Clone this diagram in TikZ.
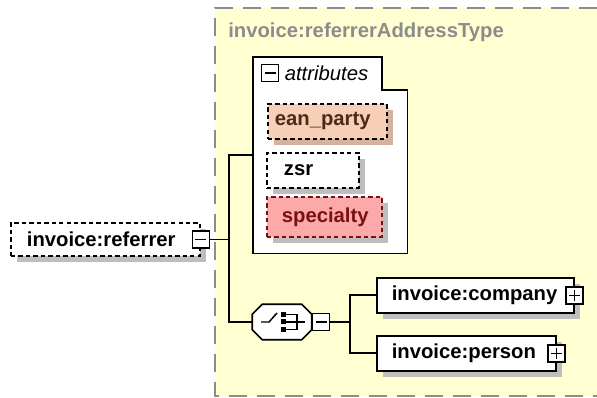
\documentclass[tikz,border=0pt]{standalone}
\usepackage{fontspec}
\setmainfont{Liberation Sans}
\usetikzlibrary{positioning, shadows}
\definecolor{typebg}{HTML}{FFFFD2}
\definecolor{typeline}{HTML}{8C8C8C}
\definecolor{shadowgray}{HTML}{BEBEBE}
\definecolor{eanfill}{HTML}{F6CFB6}
\definecolor{eanshadow}{HTML}{D6B29C}
\definecolor{eantext}{HTML}{4A2A18}
\definecolor{specfill}{HTML}{FBA9A9}
\definecolor{specline}{HTML}{7A1010}
\newcommand\pxu{0.75pt}
\newcommand\xsdfont{\fontsize{15.2}{18}\selectfont}

\tikzset{
  boxshadow/.style={general shadow={fill=#1, shadow xshift=6*\pxu, shadow yshift=-6*\pxu}},
  boxshadow/.default=shadowgray,
  elembox/.style={draw, fill=white, line width=1.2pt, font=\xsdfont\bfseries, align=left,
    inner ysep=0pt, minimum height=35*\pxu, anchor=north west},
  dashedbox/.style={elembox, line width=1.3pt, dash pattern=on 3.3pt off 2.3pt},
  togglebox/.style={draw, fill=white, line width=1.1pt, minimum size=17*\pxu, inner sep=0pt},
  minusbox/.style={togglebox,
    path picture={\draw[line width=1.1pt] ([xshift=3*\pxu]path picture bounding box.west)
      -- ([xshift=-3*\pxu]path picture bounding box.east);}},
  plusbox/.style={togglebox,
    path picture={\draw[line width=1.1pt] ([xshift=3*\pxu]path picture bounding box.west)
      -- ([xshift=-3*\pxu]path picture bounding box.east);
      \draw[line width=1.1pt] ([yshift=-3*\pxu]path picture bounding box.north)
      -- ([yshift=3*\pxu]path picture bounding box.south);}},
  choicebox/.style={minimum width=59*\pxu, minimum height=35*\pxu, inner sep=0pt},
  conn/.style={line width=1.2pt}
}

\begin{document}
\begin{tikzpicture}[x=0.75pt, y=-0.75pt]
  \useasboundingbox (0,0) rectangle (597,398);

  % complex type area
  \fill[typebg] (215,8) rectangle (597,396);
  \draw[typeline, line width=1.1pt, dash pattern=on 13.5pt off 7.5pt] (597,8) -- (215,8) -- (215,396) -- (597,396);
  \node[anchor=west, font=\xsdfont\bfseries, text=typeline, inner sep=0pt] (typename) at (228,32) {invoice:referrerAddressType};

  % attributes group
  \node[minimum width=154*\pxu, minimum height=196*\pxu, anchor=north west, inner sep=0pt] (attr) at (253,57) {};
  \draw[line width=1.2pt, fill=white] (attr.north west) -- ++(129,0) -- ++(0,33) -| (attr.south east) -- (attr.south west) -- cycle;
  \node[minusbox] (attrm) at (270,73) {};
  \node[right=4pt of attrm, font=\xsdfont\itshape, inner sep=0pt] (attrlbl) {attributes};

  \node[dashedbox, boxshadow=eanshadow, fill=eanfill, text=eantext, inner xsep=7*\pxu, text width=105*\pxu] (ean) at (267,103) {ean\_party};
  \node[dashedbox, boxshadow, inner xsep=17*\pxu, text width=58*\pxu] (zsr) at (266,152) {zsr};
  \node[dashedbox, boxshadow, fill=specfill, draw=specline, text=specline, minimum height=40*\pxu, inner xsep=15*\pxu, text width=85*\pxu] (spec) at (266,196) {specialty};

  % element
  \node[dashedbox, boxshadow, inner xsep=16*\pxu, text width=157*\pxu, minimum height=33*\pxu] (ref) at (10,222) {invoice:referrer};
  \node[minusbox] (refm) at (ref.east) {};

  % choice
  \node[choicebox] (choice) at (282,322) {};
  \fill[shadowgray, shift={(6,6)}] ([xshift=10*\pxu]choice.north west) -- ([xshift=-10*\pxu]choice.north east)
    -- ([yshift=-10*\pxu]choice.north east) -- ([yshift=10*\pxu]choice.south east)
    -- ([xshift=-10*\pxu]choice.south east) -- ([xshift=10*\pxu]choice.south west)
    -- ([yshift=10*\pxu]choice.south west) -- ([yshift=-10*\pxu]choice.north west) -- cycle;
  \draw[line width=1.2pt, fill=white] ([xshift=10*\pxu]choice.north west) -- ([xshift=-10*\pxu]choice.north east)
    -- ([yshift=-10*\pxu]choice.north east) -- ([yshift=10*\pxu]choice.south east)
    -- ([xshift=-10*\pxu]choice.south east) -- ([xshift=10*\pxu]choice.south west)
    -- ([yshift=10*\pxu]choice.south west) -- ([yshift=-10*\pxu]choice.north west) -- cycle;
  \node[minusbox, right=0pt of choice] (chm) {};
  \begin{scope}[shift={(choice.center)}, line width=1.1pt]
    \draw (-21,0) -- (-13,0) -- (-5,-9);
    \foreach \dy in {-7.5,0,7.5}
      \fill (-1.5,\dy-2.5) rectangle (3.5,\dy+2.5);
    \draw (3,-7.5) -- (15,-7.5) -- (15,7.5) -- (3,7.5);
    \draw (3,0) -- (23,0);
  \end{scope}

  % children of the choice
  \node[elembox, boxshadow, inner xsep=15*\pxu, text width=167*\pxu] (comp) at (376,277) {invoice:company};
  \node[plusbox] (compp) at (comp.east) {};
  \node[elembox, boxshadow, inner xsep=15*\pxu, text width=149*\pxu] (pers) at (376,335) {invoice:person};
  \node[plusbox] (persp) at (pers.east) {};

  % connectors
  \draw[conn] (refm.east) -- ++(19,0) coordinate (j1);
  \draw[conn] (attr.west) -| (j1) |- (choice.west);
  \draw[conn] (chm.east) -- ++(19.5,0) coordinate (j2);
  \draw[conn] (comp.west) -| (j2) |- (pers.west);
\end{tikzpicture}
\end{document}
